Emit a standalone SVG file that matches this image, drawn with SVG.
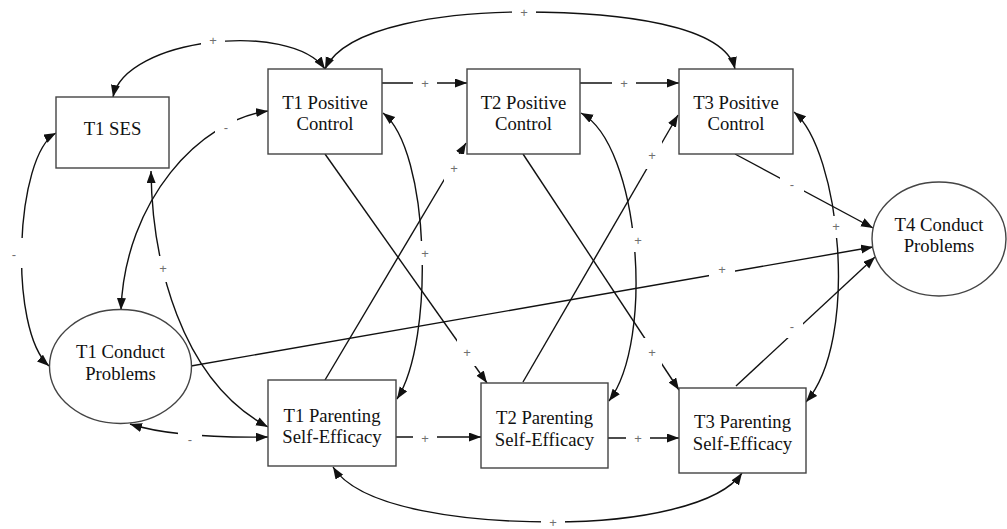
<svg xmlns="http://www.w3.org/2000/svg" width="1007" height="529" viewBox="0 0 1007 529">
<style>
.box{fill:#fff;stroke:#444;stroke-width:1.4}
.nt{font-family:"Liberation Serif","Times New Roman",serif;font-size:18.7px;fill:#111;text-anchor:middle}
.c{fill:none;stroke:#111;stroke-width:1.4}
.lb{font-family:"Liberation Sans",Arial,sans-serif;font-size:13px;fill:#707070;text-anchor:middle;dominant-baseline:central}
.gap{fill:#fff;stroke:none}
</style>
<defs>
<marker id="ah" markerUnits="userSpaceOnUse" markerWidth="13" markerHeight="10" refX="12" refY="4.5" orient="auto-start-reverse">
<path d="M0,0 L12,4.5 L0,9 z" fill="#111"/>
</marker>
</defs>
<rect width="1007" height="529" fill="#fff"/>
<g id="connectors">
<path class="c" d="M113,97 C125,38 290,20 325,69" marker-start="url(#ah)" marker-end="url(#ah)"/>
<path class="c" d="M325,69 C345,25 450,12 524,12 C620,12 725,25 735,69" marker-start="url(#ah)" marker-end="url(#ah)"/>
<path class="c" d="M382,83 H467" marker-end="url(#ah)"/>
<path class="c" d="M580,83 H679" marker-end="url(#ah)"/>
<path class="c" d="M325,154 L487,383" marker-end="url(#ah)"/>
<path class="c" d="M523,154 L679,390" marker-end="url(#ah)"/>
<path class="c" d="M325,380 L466,143" marker-end="url(#ah)"/>
<path class="c" d="M523,382 L678,115" marker-end="url(#ah)"/>
<path class="c" d="M383,113 C430,150 435,340 397,399" marker-start="url(#ah)" marker-end="url(#ah)"/>
<path class="c" d="M581,113 C640,145 655,340 609,401" marker-start="url(#ah)" marker-end="url(#ah)"/>
<path class="c" d="M794,112 C840,150 860,340 806,402" marker-start="url(#ah)" marker-end="url(#ah)"/>
<path class="c" d="M735,154 L873,228" marker-end="url(#ah)"/>
<path class="c" d="M191,366 L873,247" marker-end="url(#ah)"/>
<path class="c" d="M736,386 L875,257" marker-end="url(#ah)"/>
<path class="c" d="M268,111 C200,120 125,200 121,310" marker-start="url(#ah)" marker-end="url(#ah)"/>
<path class="c" d="M56,133 C15,155 8,330 49,366" marker-start="url(#ah)" marker-end="url(#ah)"/>
<path class="c" d="M151,171 C152,260 180,380 268,427" marker-start="url(#ah)" marker-end="url(#ah)"/>
<path class="c" d="M130,424 C155,432 200,438 268,437" marker-start="url(#ah)" marker-end="url(#ah)"/>
<path class="c" d="M396,437 H481" marker-end="url(#ah)"/>
<path class="c" d="M608,438 H679" marker-end="url(#ah)"/>
<path class="c" d="M333,467 C360,510 470,522 553,522 C640,522 720,505 742,473" marker-start="url(#ah)" marker-end="url(#ah)"/>
<g id="labels">
<rect class="gap" x="201" y="33" width="24" height="14"/><text class="lb" x="213" y="40">+</text>
<rect class="gap" x="512" y="5" width="24" height="14"/><text class="lb" x="524" y="12">+</text>
<rect class="gap" x="413" y="76" width="24" height="14"/><text class="lb" x="425" y="83">+</text>
<rect class="gap" x="612" y="76" width="24" height="14"/><text class="lb" x="624" y="83">+</text>
<rect class="gap" x="215" y="117" width="22" height="22"/><text class="lb" x="226" y="127">-</text>
<rect class="gap" x="457" y="338" width="20" height="28"/><text class="lb" x="467" y="352">+</text>
<rect class="gap" x="642" y="338" width="20" height="28"/><text class="lb" x="652" y="352">+</text>
<rect class="gap" x="444" y="154" width="20" height="28"/><text class="lb" x="454" y="168">+</text>
<rect class="gap" x="642" y="141" width="20" height="28"/><text class="lb" x="652" y="155">+</text>
<rect class="gap" x="415" y="241" width="20" height="24"/><text class="lb" x="425" y="253">+</text>
<rect class="gap" x="628" y="228" width="20" height="24"/><text class="lb" x="638" y="240">+</text>
<rect class="gap" x="828" y="216" width="16" height="22"/><text class="lb" x="836" y="226">+</text>
<rect class="gap" x="780" y="176" width="24" height="18"/><text class="lb" x="792" y="184">-</text>
<rect class="gap" x="709" y="263" width="26" height="14"/><text class="lb" x="722" y="269">+</text>
<rect class="gap" x="781" y="316" width="22" height="22"/><text class="lb" x="792" y="326">-</text>
<rect class="gap" x="6" y="238" width="24" height="30"/><text class="lb" x="14" y="254">-</text>
<rect class="gap" x="153" y="256" width="20" height="26"/><text class="lb" x="163" y="268">+</text>
<rect class="gap" x="178" y="430" width="24" height="16"/><text class="lb" x="190" y="439">-</text>
<rect class="gap" x="413" y="431" width="24" height="14"/><text class="lb" x="425" y="438">+</text>
<rect class="gap" x="626" y="431" width="24" height="14"/><text class="lb" x="638" y="438">+</text>
<rect class="gap" x="541" y="515" width="24" height="14"/><text class="lb" x="553" y="522">+</text>
</g>
</g>
<g id="t1ses"><rect class="box" x="56" y="97" width="113" height="71"/><text class="nt" x="112.5" y="135">T1 SES</text></g>
<g id="t1pc"><rect class="box" x="268" y="69" width="114" height="85"/><text class="nt" x="325" y="109">T1 Positive</text><text class="nt" x="325" y="130">Control</text></g>
<g id="t2pc"><rect class="box" x="467" y="69" width="113" height="85"/><text class="nt" x="523.5" y="109">T2 Positive</text><text class="nt" x="523.5" y="130">Control</text></g>
<g id="t3pc"><rect class="box" x="679" y="69" width="114" height="85"/><text class="nt" x="736" y="109">T3 Positive</text><text class="nt" x="736" y="130">Control</text></g>
<g id="t4cp"><ellipse class="box" cx="939" cy="239" rx="67" ry="57"/><text class="nt" x="939" y="231">T4 Conduct</text><text class="nt" x="939" y="252">Problems</text></g>
<g id="t1cp"><ellipse class="box" cx="120.5" cy="366.5" rx="71" ry="57"/><text class="nt" x="120.5" y="358">T1 Conduct</text><text class="nt" x="120.5" y="380">Problems</text></g>
<g id="t1pse"><rect class="box" x="268" y="380" width="128" height="86"/><text class="nt" x="332" y="422">T1 Parenting</text><text class="nt" x="332" y="443">Self-Efficacy</text></g>
<g id="t2pse"><rect class="box" x="481" y="383" width="127" height="85"/><text class="nt" x="544.5" y="424">T2 Parenting</text><text class="nt" x="544.5" y="446">Self-Efficacy</text></g>
<g id="t3pse"><rect class="box" x="679" y="388" width="127" height="85"/><text class="nt" x="742.5" y="428">T3 Parenting</text><text class="nt" x="742.5" y="450">Self-Efficacy</text></g>
</svg>
